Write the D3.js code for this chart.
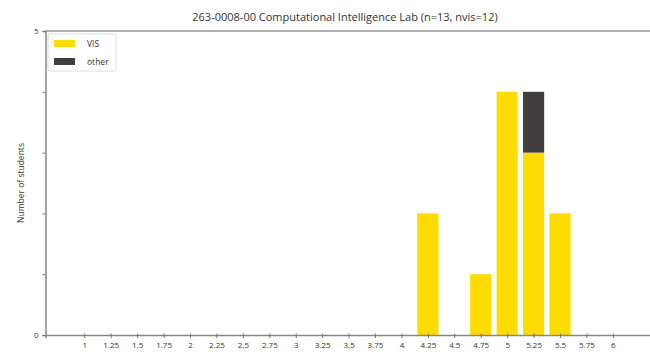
<!DOCTYPE html>
<html>
<head>
<meta charset="utf-8">
<script src="https://cdn.jsdelivr.net/npm/d3@7"></script>
<style>
  body { margin: 0; background: #fff; }
  text { font-family: "Open Sans", "DejaVu Sans", sans-serif; fill: #333; }
</style>
</head>
<body>
<svg width="650" height="359"></svg>
<script>
// grade bins and counts per group
var grades = [1, 1.25, 1.5, 1.75, 2, 2.25, 2.5, 2.75, 3, 3.25, 3.5, 3.75, 4, 4.25, 4.5, 4.75, 5, 5.25, 5.5, 5.75, 6]
var gradeLabels = ["1", "1.25", "1.5", "1.75", "2", "2.25", "2.5", "2.75", "3", "3.25", "3.5", "3.75", "4", "4.25", "4.5", "4.75", "5", "5.25", "5.5", "5.75", "6"]
var visCounts   = [0, 0, 0, 0, 0, 0, 0, 0, 0, 0, 0, 0, 0, 2, 0, 1, 4, 3, 2, 0, 0]
var otherCounts = [0, 0, 0, 0, 0, 0, 0, 0, 0, 0, 0, 0, 0, 0, 0, 0, 0, 1, 0, 0, 0]
var yTicks = [0, 1, 2, 3, 4, 5]
var yLabels = {0: "0", 5: "5"}
var titleText = "263-0008-00 Computational Intelligence Lab (n=13, nvis=12)"

var svg = d3.select("svg")
var plotLeft = 45.5, plotRight = 652, plotTop = 31, plotBottom = 335

var x = d3.scaleLinear().domain([0.633, 6.37]).range([plotLeft, plotRight])
var y = d3.scaleLinear().domain([0, 5]).range([plotBottom, plotTop])
var color = d3.scaleOrdinal().domain(["vis", "other"]).range(["#ffdc00", "#423e40"])

var table = grades.map((g, i) => ({grade: g, vis: visCounts[i], other: otherCounts[i]}))
var series = d3.stack().keys(["vis", "other"])(table)

var barW = x(1.2) - x(1)

svg.append("g")
  .selectAll("g")
  .data(series)
  .enter()
  .append("g")
  .attr("fill", d => color(d.key))
  .selectAll("rect")
  .data(d => d.filter(p => p[1] > p[0]))
  .enter()
  .append("rect")
  .attr("x", d => x(d.data.grade) - barW / 2)
  .attr("y", d => y(d[1]))
  .attr("width", barW)
  .attr("height", d => y(d[0]) - y(d[1]))

// frame: top line
svg.append("line")
  .attr("x1", plotLeft).attr("x2", 650).attr("y1", plotTop).attr("y2", plotTop)
  .attr("stroke", "#999").attr("stroke-width", 1.5)

var xAxis = d3.axisBottom(x).tickValues(grades).tickSize(3)
  .tickFormat((d, i) => gradeLabels[i])
svg.append("g")
  .attr("transform", "translate(0," + plotBottom + ")")
  .call(xAxis)
  .call(g => g.select(".domain").attr("stroke", "#888").attr("stroke-width", 1.5))
  .call(g => g.selectAll(".tick line").attr("stroke", "#777").attr("y1", -1.5))
  .call(g => g.selectAll(".tick text").attr("dy", "0.9em").attr("font-size", 8)
    .style("font-family", "Open Sans, sans-serif"))

var yAxis = d3.axisLeft(y).tickValues(yTicks).tickSize(3)
  .tickFormat(d => yLabels[d] || "")
svg.append("g")
  .attr("transform", "translate(" + plotLeft + ",0)")
  .call(yAxis)
  .call(g => g.select(".domain").attr("stroke", "#888").attr("stroke-width", 1.5))
  .call(g => g.selectAll(".tick line").attr("stroke", "#777"))
  .call(g => g.selectAll(".tick text").attr("x", -7).attr("font-size", 8)
    .style("font-family", "Open Sans, sans-serif"))

svg.append("text")
  .attr("x", 345).attr("y", 21)
  .attr("text-anchor", "middle")
  .attr("font-size", 11)
  .text(titleText)

svg.append("text")
  .attr("transform", "translate(24," + (y(2.5)) + ") rotate(-90)")
  .attr("text-anchor", "middle")
  .attr("font-size", 8.5)
  .text("Number of students")

// legend
var legend = svg.append("g").attr("transform", "translate(48,34)")
legend.append("rect")
  .attr("width", 68).attr("height", 37)
  .attr("fill", "#fff").attr("stroke", "#ddd").attr("rx", 2)
var legendItems = [["vis", "VIS"], ["other", "other"]]
legendItems.forEach((item, i) => {
  legend.append("rect")
    .attr("x", 6).attr("y", 6 + i * 18)
    .attr("width", 21).attr("height", 7)
    .attr("fill", color(item[0]))
  legend.append("text")
    .attr("x", 39).attr("y", 13 + i * 18)
    .attr("font-size", 8.5)
    .text(item[1])
})
</script>
</body>
</html>
